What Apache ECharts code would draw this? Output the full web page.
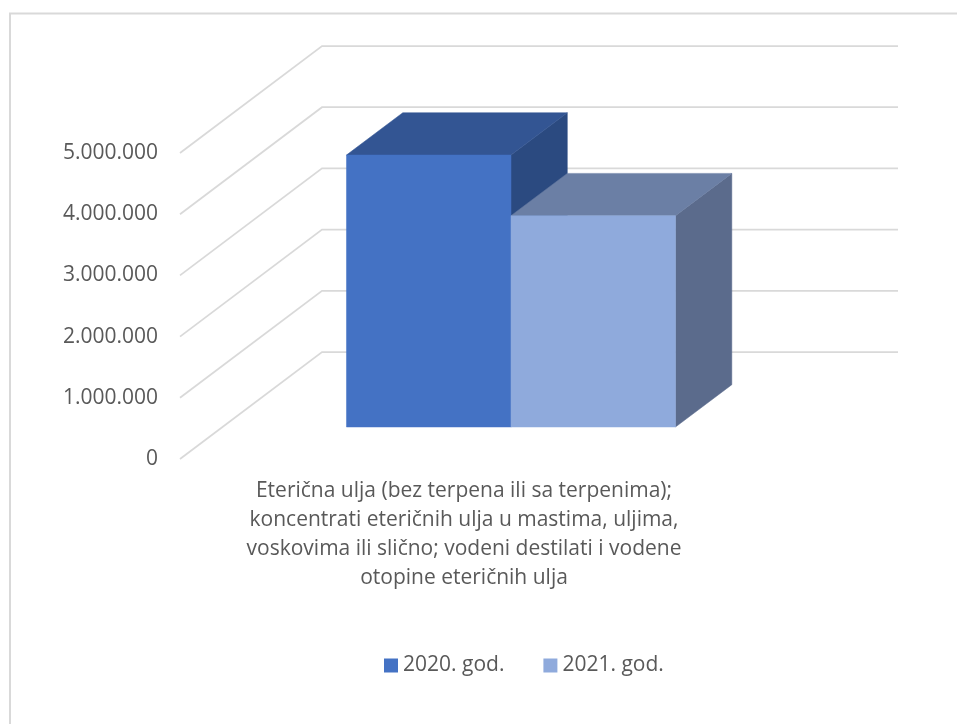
<!DOCTYPE html>
<html><head><meta charset="utf-8">
<style>html,body{margin:0;padding:0;background:#fff}#c{width:957px;height:724px}</style>
<script src="https://cdn.jsdelivr.net/npm/echarts@6/dist/echarts.min.js"></script>
</head><body><div id="c"></div>
<script>
const categories = ['Eterična ulja (bez terpena ili sa terpenima);\nkoncentrati eteričnih ulja u mastima, uljima,\nvoskovima ili slično; vodeni destilati i vodene\notopine eteričnih ulja'];
const seriesNames = ['2020. god.', '2021. god.'];
const values2020 = [4444000];
const values2021 = [3453000];
const axisTicks = [0, 1000000, 2000000, 3000000, 4000000, 5000000];

const FONT = '"Open Sans","Noto Sans",sans-serif';
const TEXT = '#595959', GRID = '#d9d9d9';
const WALL = {x: 142, y: -107};      // floor depth, front edge to back wall
const BAR_OFFSET = {x: 43, y: -32};  // where the bars stand on the floor
const BAR_DEPTH = {x: 56.3, y: -42.3};
const BAR_RATIO = 0.2856;

const fmt = v => String(v).replace(/\B(?=(\d{3})+$)/g, '.');

function wallRender(params, api) {
  const p = api.coord([0, api.value(0)]);
  const left = params.coordSys.x, right = left + params.coordSys.width;
  const y = p[1];
  return {type: 'polyline', silent: true,
    shape: {points: [[left, y], [left + WALL.x, y + WALL.y], [right + WALL.x, y + WALL.y]]},
    style: {stroke: GRID, lineWidth: 1.75, fill: null}};
}

function barRender(index, colors) {
  return function (params, api) {
    const base = api.coord([api.value(0), 0]);
    const top = api.coord([api.value(0), api.value(1)]);
    const band = api.size([1, 0])[0];
    const w = band * BAR_RATIO;
    const x0 = base[0] + BAR_OFFSET.x - w + index * w, x1 = x0 + w;
    const yb = base[1] + BAR_OFFSET.y, yt = top[1] + BAR_OFFSET.y;
    const dx = BAR_DEPTH.x, dy = BAR_DEPTH.y;
    const poly = (pts, fill) => ({type: 'polygon', shape: {points: pts},
      style: {fill: fill, stroke: fill, lineWidth: 0.5}});
    return {type: 'group', children: [
      poly([[x1, yt], [x1 + dx, yt + dy], [x1 + dx, yb + dy], [x1, yb]], colors.side),
      poly([[x0, yt], [x0 + dx, yt + dy], [x1 + dx, yt + dy], [x1, yt]], colors.top),
      poly([[x0, yt], [x1, yt], [x1, yb], [x0, yb]], colors.front)
    ]};
  };
}

const chart = echarts.init(document.getElementById('c'), null, {renderer: 'canvas'});
chart.setOption({
  animation: false,
  backgroundColor: '#fff',
  graphic: [{type: 'polyline', silent: true, z: -1,
    shape: {points: [[10, 724], [10, 13.5], [957, 13.5]]},
    style: {fill: null, stroke: GRID, lineWidth: 2}}],
  grid: {left: 180, top: 153, width: 576, height: 306},
  legend: {
    data: seriesNames, left: 384, top: 655, padding: 0,
    icon: 'rect', itemWidth: 14, itemHeight: 14, itemGap: 39,
    textStyle: {color: TEXT, fontFamily: FONT, fontSize: 21}
  },
  xAxis: {
    type: 'category', data: categories,
    axisLine: {show: false}, axisTick: {show: false},
    axisLabel: {color: TEXT, fontFamily: FONT, fontSize: 21, lineHeight: 29.2, margin: 17, interval: 0, align: 'center', padding: [0, 8, 0, 0]}
  },
  yAxis: {
    type: 'value', min: 0, max: 5000000, interval: 1000000,
    splitLine: {show: false}, axisLine: {show: false}, axisTick: {show: false},
    axisLabel: {color: TEXT, fontFamily: FONT, fontSize: 21, margin: 22, padding: [4, 0, 0, 0], formatter: fmt}
  },
  series: [
    {type: 'custom', name: 'wall', silent: true, z: 1, renderItem: wallRender,
      coordinateSystem: 'cartesian2d', encode: {y: 0},
      data: axisTicks.map(v => [v])},
    {type: 'custom', name: seriesNames[0], z: 2, itemStyle: {color: '#4472c4'},
      renderItem: barRender(0, {front: '#4472c4', top: '#335593', side: '#2b4a80'}),
      encode: {x: 0, y: 1},
      data: values2020.map((v, i) => [i, v])},
    {type: 'custom', name: seriesNames[1], z: 3, itemStyle: {color: '#8faadc'},
      renderItem: barRender(1, {front: '#8faadc', top: '#6b7fa5', side: '#5b6b8c'}),
      encode: {x: 0, y: 1},
      data: values2021.map((v, i) => [i, v])}
  ]
});
</script></body></html>
